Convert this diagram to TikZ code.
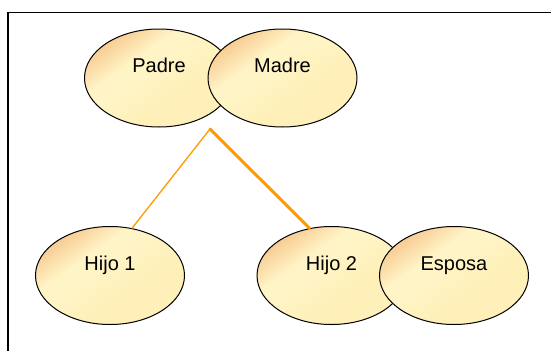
\documentclass[tikz,border=0pt]{standalone}
\usepackage{fontspec}
\setmainfont{Liberation Sans}
\usetikzlibrary{shapes.geometric}
\definecolor{peach}{HTML}{F7C88E}
\definecolor{cream}{HTML}{FFF4C6}
\definecolor{cream2}{HTML}{FEF0B8}
\definecolor{linkor}{HTML}{FF9A00}
\pgfdeclareverticalshading{personshade}{100bp}{color(0bp)=(cream2); color(40bp)=(cream2); color(55bp)=(cream); color(62bp)=(cream); color(76bp)=(peach); color(100bp)=(peach)}
\begin{document}
\begin{tikzpicture}[x=1pt,y=-1pt,
  person/.style={ellipse, draw=black, line width=1pt,
    minimum width=149pt, minimum height=98pt, inner sep=0pt,
    shading=personshade, shading angle=35,
    font=\fontsize{20}{24}\selectfont, text height=14pt, text depth=25pt},
  link/.style={draw=linkor, line cap=round, line join=round}]
\useasboundingbox (0,0) rectangle (551,351);
\draw[line width=1.7pt] (8,351) -- (8,12.5) -- (551,12.5);
\node[person] (padre) at (159,78) {Padre};
\node[person] (madre) at (282.5,78) {Madre};
\node[person] (h1) at (110,275.5) {Hijo 1};
\node[person] (h2) at (331.5,275.5) {Hijo 2};
\node[person] (esposa) at (454,275.5) {Esposa};
\coordinate (apex) at (210,129);
\draw[link, line width=1.3pt] (apex) -- (h1.65);
\draw[link, line width=3pt] (apex) -- (h2.115);
\end{tikzpicture}
\end{document}
